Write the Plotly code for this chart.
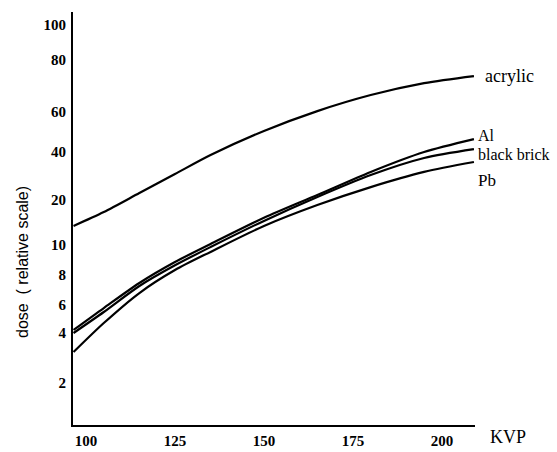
import numpy as np
import plotly.graph_objects as go

# ---- data ----
kvp = [96.5, 105, 115, 125, 135, 150, 165, 180, 195, 209]
dose_acrylic = [13.4, 16.6, 22.1, 29.1, 38.3, 49.5, 60.3, 65.9, 70.4, 73.2]
dose_al = [4.18, 5.74, 7.41, 8.81, 10.15, 15.2, 21.5, 30.0, 40.0, 45.6]
dose_brick = [4.0, 5.42, 7.2, 8.6, 9.85, 14.5, 20.9, 28.7, 36.7, 41.2]
dose_pb = [3.07, 4.62, 6.73, 8.3, 9.5, 13.4, 18.5, 24.1, 30.0, 34.6]

y_tick_labels = [2, 4, 6, 8, 10, 20, 40, 60, 80, 100]
x_tick_labels = [100, 125, 150, 175, 200]

# hand-drawn (non-uniform) relative dose scale: height of each labelled value above the baseline
scale_height = [42, 92, 120, 150, 180, 225, 273, 313, 365, 400]


def to_scale(d):
    return np.interp(np.log(np.asarray(d, float)), np.log(y_tick_labels), scale_height)


series = [
    ("acrylic", dose_acrylic),
    ("Al", dose_al),
    ("black brick", dose_brick),
    ("Pb", dose_pb),
]

fig = go.Figure()
for name, vals in series:
    fig.add_trace(go.Scatter(
        x=kvp, y=to_scale(vals), mode="lines", name=name,
        line=dict(color="black", width=2.2, shape="spline", smoothing=0.8),
        showlegend=False, hoverinfo="skip"))

serif = "Liberation Serif"
fig.update_layout(
    width=557, height=452,
    margin=dict(l=73, r=82, t=12, b=27, autoexpand=False),
    paper_bgcolor="white", plot_bgcolor="white",
    font=dict(family=serif, color="black", size=14),
    xaxis=dict(range=[96.35, 209.3], tickvals=x_tick_labels,
               ticktext=[str(v) for v in x_tick_labels], automargin=False,
               showgrid=False, zeroline=False, showline=True,
               linecolor="black", linewidth=2, ticks="", ticklabelstandoff=1,
               tickfont=dict(family=serif, size=15, weight="bold")),
    yaxis=dict(range=[0, 413], tickvals=scale_height,
               ticktext=[str(v) for v in y_tick_labels], automargin=False,
               showgrid=False, zeroline=False, showline=True,
               linecolor="black", linewidth=2, ticks="", ticklabelstandoff=2,
               tickfont=dict(family=serif, size=15, weight="bold")),
)

labels = [("acrylic", 483, 76, 18), ("Al", 476, 135, 16),
          ("black brick", 476, 154, 16), ("Pb", 476, 180, 17)]
for text, px, py, fs in labels:
    fig.add_annotation(text=text, xref="paper", yref="paper",
                       x=(px - 73) / (557 - 73 - 82), y=(425 - py) / 413,
                       xanchor="left", yanchor="middle", showarrow=False,
                       font=dict(family=serif, size=fs, color="black"))

fig.add_annotation(text="KVP", xref="paper", yref="paper",
                   x=(488 - 73) / 402, y=(425 - 437) / 413,
                   xanchor="left", yanchor="middle", showarrow=False,
                   font=dict(family=serif, size=18, color="black"))

fig.add_annotation(text="dose  ( relative scale)", xref="paper", yref="paper",
                   x=(22 - 73) / 402, y=(425 - 262) / 413, textangle=-90,
                   xanchor="center", yanchor="middle", showarrow=False,
                   font=dict(family="Liberation Sans", size=16, color="black"))

fig.write_html("out.html")
